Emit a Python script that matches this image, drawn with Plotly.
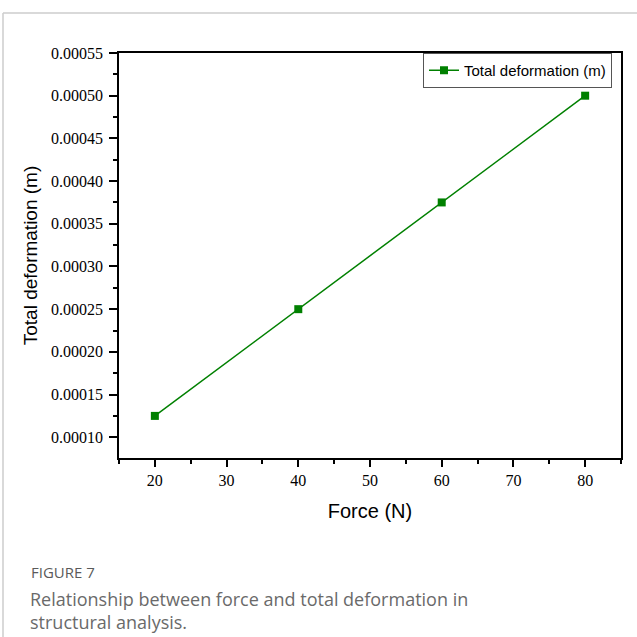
import plotly.graph_objects as go

force = [20, 40, 60, 80]
deformation = [0.000125, 0.00025, 0.000375, 0.0005]
y_ticks = [0.00010, 0.00015, 0.00020, 0.00025, 0.00030, 0.00035, 0.00040, 0.00045, 0.00050, 0.00055]
x_ticks = [20, 30, 40, 50, 60, 70, 80]

fig = go.Figure()
fig.add_trace(go.Scatter(
    x=force, y=deformation, mode="lines+markers",
    name="Total deformation (m)",
    line=dict(color="#008000", width=1.5),
    marker=dict(symbol="square", size=8, color="#008000"),
))

L, R, T, B = 119, 621, 53, 458
W, H = R - L, B - T

def px(x):
    return (x - L) / W

def py(y):
    return (B - y) / H

SERIF = "Liberation Serif"
SANS = "Liberation Sans"

fig.update_layout(
    width=637, height=637,
    margin=dict(l=L, r=637 - R, t=T, b=637 - B),
    paper_bgcolor="white", plot_bgcolor="white",
    showlegend=True,
    legend=dict(
        x=px(612), y=py(53), xanchor="right", yanchor="top",
        bordercolor="#555", borderwidth=1, bgcolor="white",
        font=dict(family=SANS, size=15, color="black"),
        itemwidth=30, tracegroupgap=0,
    ),
    xaxis=dict(
        range=[15, 85], tickvals=x_ticks, showgrid=False, zeroline=False,
        showline=True, linecolor="black", linewidth=1.5, mirror=True,
        ticks="outside", ticklen=7, tickwidth=1.5, tickcolor="black",
        tickfont=dict(family=SERIF, size=16, color="black"),
        minor=dict(ticks="outside", ticklen=4, tickwidth=1.5, tickcolor="black", dtick=5, tick0=0),
        title=dict(text="Force (N)", font=dict(family=SANS, size=20, color="black"), standoff=16),
    ),
    yaxis=dict(
        range=[0.0000757, 0.00055], tickvals=y_ticks, tickformat=".5f", showgrid=False, zeroline=False,
        showline=True, linecolor="black", linewidth=1.5, mirror=True,
        ticks="outside", ticklen=8, tickwidth=1.5, tickcolor="black",
        tickfont=dict(family=SERIF, size=16, color="black"),
        ticklabelstandoff=3,
        minor=dict(ticks="outside", ticklen=4, tickwidth=1.5, tickcolor="black", dtick=0.000025, tick0=0),
        title=dict(text="Total deformation (m)", font=dict(family=SANS, size=19, color="black"), standoff=8),
    ),
)

# outer frame lines (top and left)
fig.add_shape(type="line", xref="paper", yref="paper", x0=px(3), x1=px(640), y0=py(13), y1=py(13),
              line=dict(color="#cccccc", width=1.5))
fig.add_shape(type="line", xref="paper", yref="paper", x0=px(3), x1=px(3), y0=py(13), y1=py(640),
              line=dict(color="#cccccc", width=1.5))

fig.add_annotation(text="FIGURE 7", xref="paper", yref="paper", x=px(29), y=py(572),
                   xanchor="left", yanchor="middle", showarrow=False,
                   font=dict(family="Open Sans", size=15, color="#5a5a5a"))
fig.add_annotation(text="Relationship between force and total deformation in<br>structural analysis.",
                   xref="paper", yref="paper", x=px(28), y=py(585),
                   xanchor="left", yanchor="top", showarrow=False, align="left",
                   font=dict(family="Open Sans", size=18, color="#6a6a6a"))

fig.write_html("out.html", config={"displayModeBar": False},
               post_script="document.body.style.margin='0';document.body.style.overflow='hidden';")
